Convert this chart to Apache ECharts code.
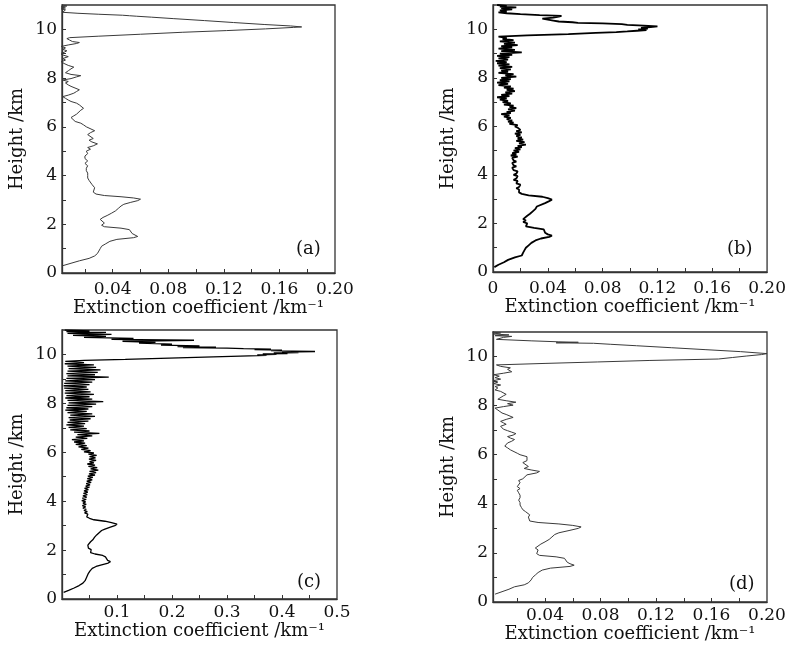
<!DOCTYPE html>
<html>
<head>
<meta charset="utf-8">
<script src="https://cdn.jsdelivr.net/npm/echarts@6/dist/echarts.min.js"></script>
<style>html,body{margin:0;padding:0;background:#fff;}#c{width:789px;height:647px;}</style>
</head>
<body>
<div id="c"></div>
<script>
// ---- Panel (a) ----
const hA = [0.30,0.40,0.50,0.60,0.70,0.80,0.90,1.00,1.10,1.20,1.30,1.38,1.45,1.50,1.55,1.62,1.70,1.78,1.84,1.90,1.96,2.05,2.12,2.20,2.28,2.36,2.45,2.55,2.65,2.75,2.82,2.90,2.97,3.03,3.08,3.13,3.18,3.24,3.32,3.40,3.50,3.58,3.64,3.72,3.80,3.90,4.00,4.10,4.20,4.30,4.40,4.50,4.60,4.70,4.80,4.90,5.00,5.08,5.15,5.22,5.30,5.38,5.45,5.52,5.60,5.68,5.76,5.84,5.92,6.00,6.08,6.15,6.22,6.30,6.38,6.45,6.52,6.60,6.68,6.76,6.83,6.90,6.97,7.04,7.10,7.17,7.24,7.30,7.38,7.45,7.52,7.60,7.66,7.72,7.80,7.86,7.92,7.98,8.05,8.10,8.15,8.22,8.30,8.38,8.45,8.52,8.60,8.67,8.74,8.80,8.88,8.95,9.00,9.06,9.12,9.18,9.24,9.30,9.36,9.42,9.46,9.50,9.56,9.62,9.66,9.72,9.80,9.88,9.95,10.02,10.08,10.10,10.14,10.20,10.28,10.36,10.44,10.50,10.54,10.56,10.58,10.62,10.66,10.70,10.75,10.80,10.84,10.88,10.92,10.96,11.00];
const eA = [0.004,0.010,0.016,0.023,0.027,0.029,0.030,0.031,0.032,0.035,0.038,0.043,0.055,0.058,0.057,0.054,0.053,0.052,0.046,0.034,0.032,0.034,0.033,0.031,0.033,0.036,0.039,0.042,0.044,0.046,0.048,0.053,0.058,0.060,0.055,0.046,0.034,0.028,0.026,0.026,0.027,0.028,0.025,0.024,0.023,0.022,0.022,0.022,0.021,0.021,0.022,0.020,0.022,0.020,0.020,0.022,0.021,0.024,0.022,0.026,0.029,0.025,0.023,0.026,0.025,0.022,0.024,0.027,0.026,0.021,0.019,0.017,0.013,0.012,0.010,0.012,0.014,0.015,0.017,0.019,0.020,0.016,0.014,0.010,0.008,0.006,0.004,0.008,0.012,0.014,0.016,0.015,0.010,0.008,0.006,0.008,0.004,0.010,0.014,0.017,0.010,0.006,0.008,0.010,0.012,0.008,0.005,0.003,0.006,0.004,0.008,0.004,0.002,0.005,0.007,0.004,0.006,0.003,0.008,0.014,0.016,0.011,0.009,0.007,0.009,0.030,0.060,0.090,0.122,0.150,0.170,0.176,0.168,0.149,0.127,0.106,0.084,0.068,0.057,0.052,0.047,0.030,0.015,0.004,0.003,0.006,0.003,0.006,0.003,0.007,0.004];

// ---- Panel (b) ----
const hB = [0.20,0.30,0.40,0.50,0.60,0.68,0.80,0.90,1.00,1.10,1.20,1.30,1.38,1.45,1.50,1.55,1.62,1.70,1.76,1.82,1.88,1.94,2.00,2.06,2.12,2.18,2.24,2.32,2.40,2.50,2.60,2.70,2.78,2.84,2.92,2.98,3.04,3.10,3.16,3.22,3.28,3.34,3.40,3.45,3.50,3.55,3.60,3.65,3.70,3.75,3.80,3.85,3.90,3.95,4.00,4.05,4.10,4.15,4.20,4.25,4.30,4.35,4.40,4.45,4.50,4.55,4.60,4.65,4.70,4.75,4.80,4.85,4.90,4.95,5.00,5.05,5.10,5.15,5.20,5.25,5.30,5.35,5.40,5.45,5.50,5.55,5.60,5.65,5.70,5.75,5.80,5.85,5.90,5.95,6.00,6.05,6.10,6.15,6.20,6.25,6.30,6.35,6.40,6.45,6.50,6.55,6.60,6.65,6.70,6.75,6.80,6.85,6.90,6.95,7.00,7.05,7.10,7.15,7.20,7.25,7.30,7.35,7.40,7.45,7.50,7.55,7.60,7.65,7.70,7.75,7.80,7.85,7.90,7.95,8.00,8.05,8.10,8.15,8.20,8.25,8.30,8.35,8.40,8.45,8.50,8.55,8.60,8.65,8.70,8.75,8.80,8.85,8.90,8.95,9.00,9.05,9.10,9.15,9.20,9.25,9.30,9.35,9.40,9.45,9.50,9.55,9.60,9.65,9.70,9.75,9.80,9.85,9.88,9.91,9.94,9.97,10.00,10.03,10.06,10.09,10.12,10.15,10.18,10.21,10.24,10.26,10.29,10.32,10.36,10.40,10.44,10.48,10.52,10.55,10.58,10.62,10.66,10.70,10.74,10.78,10.82,10.86,10.90,10.93,10.96,11.00];
const eB = [0.001,0.004,0.008,0.011,0.016,0.021,0.022,0.023,0.024,0.026,0.028,0.031,0.035,0.041,0.043,0.040,0.038,0.039,0.037,0.030,0.024,0.023,0.025,0.022,0.024,0.022,0.023,0.025,0.027,0.029,0.031,0.032,0.033,0.038,0.041,0.043,0.040,0.036,0.026,0.021,0.019,0.018,0.019,0.017,0.019,0.018,0.020,0.017,0.016,0.018,0.015,0.017,0.016,0.018,0.015,0.017,0.016,0.018,0.015,0.016,0.014,0.017,0.015,0.016,0.014,0.017,0.015,0.016,0.014,0.018,0.013,0.017,0.014,0.019,0.015,0.020,0.016,0.021,0.018,0.024,0.019,0.023,0.017,0.022,0.018,0.021,0.017,0.020,0.016,0.021,0.017,0.020,0.019,0.018,0.016,0.018,0.012,0.015,0.011,0.014,0.010,0.013,0.008,0.012,0.006,0.013,0.010,0.016,0.011,0.017,0.012,0.015,0.008,0.013,0.007,0.011,0.005,0.010,0.003,0.012,0.006,0.014,0.009,0.016,0.010,0.015,0.008,0.013,0.004,0.011,0.003,0.012,0.005,0.013,0.006,0.017,0.009,0.015,0.004,0.011,0.006,0.013,0.005,0.014,0.004,0.012,0.003,0.010,0.002,0.011,0.004,0.012,0.003,0.014,0.005,0.021,0.006,0.016,0.004,0.014,0.006,0.018,0.008,0.016,0.005,0.015,0.007,0.010,0.004,0.025,0.055,0.075,0.090,0.098,0.105,0.112,0.106,0.113,0.108,0.115,0.120,0.110,0.098,0.094,0.080,0.062,0.058,0.048,0.044,0.040,0.036,0.044,0.048,0.050,0.034,0.020,0.010,0.004,0.010,0.005,0.014,0.006,0.017,0.005,0.010,0.003];

// ---- Panel (c) ----
const hC = [0.27,0.35,0.45,0.55,0.65,0.75,0.85,0.95,1.05,1.15,1.25,1.33,1.40,1.47,1.53,1.58,1.65,1.72,1.78,1.84,1.90,1.96,2.02,2.08,2.14,2.20,2.26,2.34,2.42,2.52,2.62,2.72,2.80,2.86,2.94,3.00,3.06,3.12,3.18,3.24,3.30,3.36,3.42,3.47,3.52,3.57,3.62,3.67,3.72,3.77,3.82,3.87,3.92,3.97,4.02,4.07,4.12,4.17,4.22,4.27,4.32,4.37,4.42,4.47,4.52,4.57,4.62,4.67,4.72,4.77,4.82,4.87,4.92,4.97,5.02,5.07,5.12,5.17,5.22,5.27,5.32,5.37,5.42,5.47,5.52,5.57,5.62,5.67,5.72,5.77,5.82,5.87,5.92,5.97,6.02,6.07,6.12,6.17,6.22,6.27,6.32,6.37,6.42,6.47,6.52,6.57,6.62,6.67,6.72,6.77,6.82,6.87,6.92,6.97,7.02,7.07,7.12,7.17,7.22,7.27,7.32,7.37,7.42,7.47,7.52,7.57,7.62,7.67,7.72,7.77,7.82,7.87,7.92,7.97,8.02,8.07,8.12,8.17,8.22,8.27,8.32,8.37,8.42,8.47,8.52,8.57,8.62,8.67,8.72,8.77,8.82,8.87,8.92,8.97,9.02,9.07,9.12,9.17,9.22,9.27,9.32,9.37,9.42,9.47,9.52,9.57,9.62,9.67,9.72,9.76,9.80,9.85,9.90,9.94,9.96,9.98,10.00,10.02,10.04,10.06,10.08,10.10,10.12,10.14,10.16,10.18,10.20,10.22,10.24,10.26,10.28,10.30,10.32,10.35,10.38,10.42,10.46,10.50,10.54,10.58,10.62,10.66,10.70,10.74,10.78,10.82,10.86,10.90,10.93,10.96,11.00];
const eC = [0.003,0.012,0.022,0.031,0.038,0.042,0.044,0.046,0.048,0.051,0.055,0.062,0.072,0.084,0.088,0.083,0.080,0.079,0.074,0.060,0.052,0.050,0.053,0.048,0.050,0.047,0.049,0.052,0.056,0.059,0.063,0.068,0.072,0.078,0.088,0.096,0.100,0.090,0.078,0.058,0.050,0.045,0.043,0.047,0.041,0.046,0.040,0.044,0.038,0.043,0.037,0.044,0.038,0.043,0.036,0.044,0.037,0.045,0.038,0.046,0.039,0.047,0.040,0.048,0.041,0.050,0.043,0.051,0.044,0.053,0.045,0.055,0.046,0.056,0.047,0.060,0.049,0.062,0.050,0.066,0.052,0.064,0.048,0.060,0.046,0.058,0.050,0.062,0.049,0.061,0.050,0.063,0.048,0.058,0.040,0.052,0.035,0.048,0.030,0.045,0.025,0.042,0.022,0.040,0.018,0.046,0.025,0.055,0.028,0.068,0.022,0.050,0.015,0.045,0.012,0.040,0.008,0.042,0.010,0.048,0.014,0.052,0.012,0.060,0.015,0.055,0.010,0.045,0.006,0.048,0.008,0.055,0.010,0.062,0.012,0.075,0.010,0.055,0.006,0.050,0.008,0.058,0.005,0.052,0.006,0.048,0.004,0.045,0.003,0.050,0.004,0.055,0.006,0.060,0.008,0.085,0.010,0.060,0.008,0.065,0.010,0.070,0.012,0.062,0.010,0.058,0.005,0.040,0.006,0.040,0.115,0.195,0.275,0.340,0.372,0.355,0.390,0.365,0.410,0.385,0.430,0.400,0.460,0.420,0.380,0.400,0.350,0.380,0.330,0.300,0.220,0.280,0.210,0.250,0.180,0.200,0.140,0.170,0.110,0.240,0.090,0.130,0.040,0.080,0.020,0.090,0.010,0.080,0.008,0.050,0.005];

// ---- Panel (d) ----
const hD = [0.32,0.42,0.52,0.62,0.70,0.78,0.90,1.00,1.10,1.20,1.30,1.38,1.45,1.50,1.56,1.62,1.70,1.78,1.84,1.90,1.97,2.05,2.12,2.20,2.28,2.36,2.45,2.55,2.65,2.75,2.82,2.92,3.00,3.06,3.12,3.18,3.24,3.30,3.38,3.46,3.55,3.62,3.68,3.76,3.85,3.95,4.05,4.15,4.25,4.35,4.45,4.55,4.62,4.70,4.78,4.86,4.95,5.02,5.10,5.18,5.26,5.32,5.38,5.44,5.52,5.60,5.68,5.76,5.84,5.92,6.00,6.06,6.12,6.20,6.28,6.35,6.42,6.48,6.55,6.62,6.68,6.74,6.80,6.86,6.92,6.98,7.04,7.10,7.16,7.24,7.30,7.36,7.44,7.52,7.58,7.64,7.70,7.76,7.82,7.90,7.96,8.02,8.08,8.14,8.20,8.26,8.32,8.40,8.46,8.52,8.58,8.64,8.72,8.78,8.84,8.90,8.96,9.02,9.08,9.14,9.20,9.26,9.32,9.38,9.43,9.48,9.54,9.60,9.66,9.72,9.78,9.84,9.90,9.96,10.02,10.08,10.12,10.14,10.20,10.28,10.36,10.44,10.50,10.54,10.56,10.58,10.60,10.64,10.70,10.74,10.78,10.82,10.85,10.88,10.92,10.96,11.00];
const eD = [0.004,0.009,0.014,0.018,0.025,0.028,0.030,0.031,0.033,0.035,0.038,0.044,0.058,0.061,0.058,0.056,0.056,0.054,0.048,0.036,0.034,0.033,0.035,0.033,0.034,0.037,0.040,0.043,0.045,0.047,0.050,0.058,0.064,0.066,0.060,0.050,0.035,0.029,0.028,0.028,0.029,0.029,0.026,0.024,0.023,0.022,0.022,0.021,0.022,0.022,0.021,0.020,0.022,0.020,0.020,0.022,0.021,0.024,0.023,0.027,0.034,0.036,0.030,0.025,0.028,0.027,0.024,0.027,0.028,0.027,0.022,0.020,0.019,0.015,0.013,0.011,0.010,0.013,0.016,0.018,0.015,0.013,0.017,0.019,0.016,0.013,0.010,0.009,0.008,0.012,0.010,0.008,0.012,0.017,0.018,0.012,0.009,0.010,0.006,0.004,0.010,0.017,0.013,0.019,0.012,0.006,0.005,0.010,0.012,0.013,0.008,0.004,0.006,0.004,0.008,0.003,0.006,0.003,0.008,0.004,0.007,0.003,0.010,0.016,0.017,0.013,0.015,0.008,0.005,0.040,0.078,0.115,0.165,0.175,0.185,0.196,0.200,0.195,0.181,0.156,0.131,0.106,0.087,0.075,0.048,0.064,0.050,0.030,0.005,0.004,0.010,0.016,0.004,0.014,0.003,0.008,0.002];

// ---- Tick labels ----
const xLabelsAD = [0.04, 0.08, 0.12, 0.16, 0.20];
const xTicksAD = [0.02, 0.04, 0.06, 0.08, 0.10, 0.12, 0.14, 0.16, 0.18];
const xLabelsB = [0, 0.04, 0.08, 0.12, 0.16, 0.20];
const xTicksB = [0.02, 0.04, 0.06, 0.08, 0.10, 0.12, 0.14, 0.16, 0.18];
const xLabelsC = [0.1, 0.2, 0.3, 0.4, 0.5];
const xTicksC = [0.05, 0.1, 0.15, 0.2, 0.25, 0.3, 0.35, 0.4, 0.45];
const yLabels = [0, 2, 4, 6, 8, 10];
const yTicks = [1, 2, 3, 4, 5, 6, 7, 8, 9, 10];
const panelNames = ['(a)', '(b)', '(c)', '(d)'];
const xTitle = 'Extinction coefficient /km⁻¹';
const yTitle = 'Height /km';

const FONT = 'DejaVu Serif';
const INK = '#111';

function pairs(h, e) { return h.map((v, i) => [e[i], v]); }

const grids = [
  {left: 62, top: 5, width: 273, height: 268},
  {left: 493, top: 5, width: 275, height: 267},
  {left: 62, top: 330, width: 275, height: 269},
  {left: 493, top: 332, width: 274, height: 270}
];

function xAxis(i, min, max, labels, ticks, fmt) {
  return {
    type: 'value', gridIndex: i, min: min, max: max,
    name: xTitle, nameLocation: 'middle', nameGap: i < 2 ? 26 : 22,
    nameTextStyle: {fontFamily: FONT, fontSize: 18, color: INK},
    axisLine: {show: true, lineStyle: {color: '#333', width: 1.3}},
    axisTick: {show: true, inside: true, length: 4, customValues: ticks, lineStyle: {color: '#333', width: 1}},
    axisLabel: {customValues: labels, fontFamily: FONT, fontSize: 17, color: INK, margin: i < 2 ? 8 : 5, formatter: fmt, showMinLabel: true, showMaxLabel: true},
    splitLine: {show: false}
  };
}
function yAxis(i) {
  return {
    type: 'value', gridIndex: i, min: 0, max: 11,
    name: yTitle, nameLocation: 'middle', nameGap: 36,
    nameTextStyle: {fontFamily: FONT, fontSize: 18, color: INK},
    axisLine: {show: true, lineStyle: {color: '#333', width: 1.3}},
    axisTick: {show: true, inside: true, length: 4, customValues: yTicks, lineStyle: {color: '#333', width: 1}},
    axisLabel: {customValues: yLabels, fontFamily: FONT, fontSize: 17, color: INK, margin: 5},
    splitLine: {show: false}
  };
}
const f2 = v => (v === 0 ? '0' : v.toFixed(2));
const f1 = v => v.toFixed(1);

const option = {
  animation: false,
  backgroundColor: '#fff',
  grid: grids.map(g => Object.assign({show: true, borderColor: '#333', borderWidth: 1.3, backgroundColor: 'transparent'}, g)),
  xAxis: [
    xAxis(0, 0.0035, 0.2, xLabelsAD, xTicksAD, f2),
    xAxis(1, 0, 0.2, xLabelsB, xTicksB, f2),
    xAxis(2, 0, 0.5, xLabelsC, xTicksC, f1),
    xAxis(3, 0.0025, 0.2, xLabelsAD, xTicksAD, f2)
  ],
  yAxis: [yAxis(0), yAxis(1), yAxis(2), yAxis(3)],
  series: [
    {type: 'line', xAxisIndex: 0, yAxisIndex: 0, data: pairs(hA, eA), showSymbol: false, lineStyle: {color: '#3a3a3a', width: 1}},
    {type: 'line', xAxisIndex: 1, yAxisIndex: 1, data: pairs(hB, eB), showSymbol: false, lineStyle: {color: '#000', width: 1.8}},
    {type: 'line', xAxisIndex: 2, yAxisIndex: 2, data: pairs(hC, eC), showSymbol: false, lineStyle: {color: '#000', width: 1.3}},
    {type: 'line', xAxisIndex: 3, yAxisIndex: 3, data: pairs(hD, eD), showSymbol: false, lineStyle: {color: '#3a3a3a', width: 1}}
  ],
  graphic: [
    {type: 'text', left: 296, top: 240, style: {text: panelNames[0], font: '18px "DejaVu Serif"', fill: INK}},
    {type: 'text', left: 727, top: 240, style: {text: panelNames[1], font: '18px "DejaVu Serif"', fill: INK}},
    {type: 'text', left: 297, top: 573, style: {text: panelNames[2], font: '18px "DejaVu Serif"', fill: INK}},
    {type: 'text', left: 729, top: 575, style: {text: panelNames[3], font: '18px "DejaVu Serif"', fill: INK}}
  ]
};
const chart = echarts.init(document.getElementById('c'), null, {renderer: 'canvas'});
chart.setOption(option);
</script>
</body>
</html>
